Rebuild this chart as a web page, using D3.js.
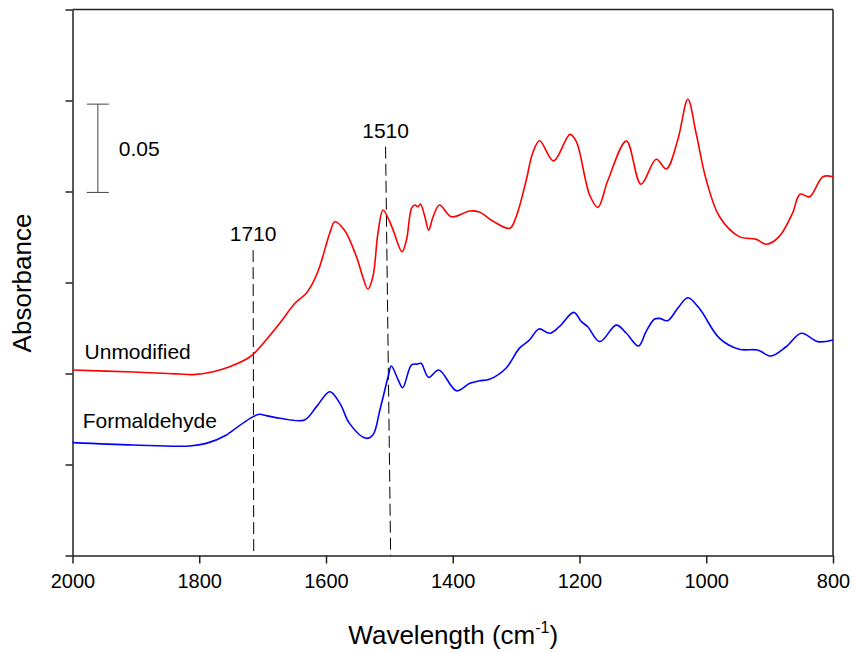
<!DOCTYPE html>
<html>
<head>
<meta charset="utf-8">
<script src="https://cdn.jsdelivr.net/npm/d3@7"></script>
<style>
    body { margin: 0; background: #fff; }
    text { font-family: "Liberation Sans", Arial, sans-serif; fill: #000; }
</style>
</head>
<body>
<div id="chart"></div>
<script>
(function () {

    // Spectra (wavenumber, absorbance)
    var unmodified = [
        [2000, 0.1019], [1904, 0.1008], [1850, 0.1000], [1831, 0.0997], [1810, 0.0994],
        [1778, 0.1010], [1752, 0.1037], [1726, 0.1078], [1716, 0.1102], [1699, 0.1166],
        [1673, 0.1276], [1649, 0.1386], [1631, 0.1441], [1621, 0.1496], [1610, 0.1587],
        [1594, 0.1772], [1586, 0.1834], [1571, 0.1788], [1552, 0.1642], [1542, 0.1532],
        [1534, 0.1464], [1526, 0.1532], [1518, 0.1772], [1510, 0.1898], [1502, 0.1854],
        [1494, 0.1788], [1480, 0.1669], [1473, 0.1734], [1465, 0.1909], [1460, 0.1926],
        [1455, 0.1916], [1451, 0.1931], [1444, 0.1861], [1438, 0.1788], [1431, 0.1861],
        [1421, 0.1926], [1402, 0.1861], [1373, 0.1893], [1358, 0.1887], [1337, 0.1838],
        [1310, 0.1798], [1300, 0.1861], [1284, 0.2063], [1274, 0.2210], [1263, 0.2279],
        [1241, 0.2168], [1215, 0.2314], [1205, 0.2274], [1184, 0.1981], [1171, 0.1913],
        [1155, 0.2063], [1126, 0.2277], [1103, 0.2040], [1079, 0.2177], [1063, 0.2124],
        [1045, 0.2283], [1029, 0.2507], [1016, 0.2320], [1000, 0.2063], [979, 0.1861],
        [948, 0.1752], [921, 0.1737], [905, 0.1710], [885, 0.1752], [864, 0.1880],
        [852, 0.1985], [837, 0.1971], [816, 0.2081], [800, 0.2081]
    ];

    var formaldehyde = [
        [2000, 0.0620], [1904, 0.0607], [1815, 0.0602], [1789, 0.0616], [1757, 0.0662],
        [1752, 0.0675], [1715, 0.0763], [1705, 0.0776], [1699, 0.0772], [1673, 0.0754],
        [1634, 0.0745], [1615, 0.0818], [1594, 0.0900], [1578, 0.0836], [1563, 0.0726],
        [1537, 0.0644], [1526, 0.0662], [1515, 0.0799], [1502, 0.0982], [1497, 0.1041],
        [1486, 0.0964], [1479, 0.0922], [1465, 0.1047], [1455, 0.1052], [1450, 0.1056],
        [1438, 0.0979], [1422, 0.1019], [1394, 0.0905], [1373, 0.0946], [1358, 0.0960],
        [1342, 0.0968], [1316, 0.1029], [1295, 0.1138], [1279, 0.1184], [1264, 0.1245],
        [1247, 0.1221], [1232, 0.1257], [1209, 0.1336], [1197, 0.1285], [1187, 0.1257],
        [1168, 0.1175], [1142, 0.1266], [1126, 0.1221], [1107, 0.1151], [1095, 0.1230],
        [1082, 0.1298], [1074, 0.1303], [1061, 0.1290], [1045, 0.1358], [1029, 0.1416],
        [1011, 0.1358], [979, 0.1193], [948, 0.1133], [919, 0.1129], [898, 0.1096],
        [874, 0.1147], [850, 0.1221], [824, 0.1175], [800, 0.1184]
    ];

    // Axis ticks
    var xTicks = [2000, 1800, 1600, 1400, 1200, 1000, 800];
    var yTicks = [0, 0.05, 0.10, 0.15, 0.20, 0.25, 0.30];

    // Marker lines: label, x at top, x at bottom, absorbance at top
    var markers = [
        {label: "1710", top: 1715, bottom: 1714, yTop: 0.1678},
        {label: "1510", top: 1506, bottom: 1498, yTop: 0.2246}
    ];

    // Scale bar
    var scaleBar = {x: 1960, from: 0.1995, to: 0.2480, label: "0.05"};

    // Series labels
    var seriesLabels = [
        {text: "Unmodified", x: 1981, y: 0.1082},
        {text: "Formaldehyde", x: 1984, y: 0.0698}
    ];

    var redColor = "#ff0000";
    var blueColor = "#0000ff";

    var margin = {top: 9.5, right: 21, bottom: 96.5, left: 72.5},
        width = 854 - margin.left - margin.right,
        height = 652 - margin.top - margin.bottom;

    var svg = d3.select("#chart")
        .append("svg")
        .attr("width", 854)
        .attr("height", 652)
        .append("g")
        .attr("transform", "translate(" + margin.left + "," + margin.top + ")");

    var x = d3.scaleLinear()
        .domain([2000, 800])
        .range([0, width]);

    var y = d3.scaleLinear()
        .domain([0, 0.30])
        .range([height, 0]);

    // Frame: top and right lines
    svg.append("line")
        .attr("x1", 0).attr("x2", width)
        .attr("y1", 0).attr("y2", 0)
        .attr("stroke", "#222").attr("stroke-width", 1.5);

    svg.append("line")
        .attr("x1", width).attr("x2", width)
        .attr("y1", 0).attr("y2", height)
        .attr("stroke", "#222").attr("stroke-width", 1.5);

    // x axis
    var xAxis = svg.append("g")
        .attr("transform", "translate(0," + height + ")")
        .call(d3.axisBottom(x).tickValues(xTicks).tickSize(8).tickSizeOuter(0).tickPadding(10)
            .tickFormat(d3.format("d")));

    xAxis.selectAll("text")
        .style("font-size", "20px")
        .attr("font-family", null);

    // y axis, no labels
    svg.append("g")
        .call(d3.axisLeft(y).tickValues(yTicks).tickSize(7).tickSizeOuter(0).tickFormat(""));

    svg.selectAll(".domain, .tick line")
        .attr("stroke", "#222")
        .attr("stroke-width", 1.5);

    // Axis titles
    var xTitle = svg.append("text")
        .attr("x", width / 2 + 0.5)
        .attr("y", height + 88)
        .attr("text-anchor", "middle")
        .style("font-size", "26px");
    xTitle.append("tspan").text("Wavelength (cm");
    xTitle.append("tspan").attr("dy", -11).style("font-size", "16px").text("-1");
    xTitle.append("tspan").attr("dy", 11).text(")");

    svg.append("text")
        .attr("transform", "rotate(-90)")
        .attr("x", -(height / 2) - 0.5)
        .attr("y", 31 - margin.left)
        .attr("text-anchor", "middle")
        .style("font-size", "26px")
        .text("Absorbance");

    // Dashed marker lines
    markers.forEach(function (m) {
        svg.append("line")
            .attr("x1", x(m.top)).attr("y1", y(m.yTop))
            .attr("x2", x(m.bottom)).attr("y2", height)
            .attr("stroke", "#000")
            .attr("stroke-width", 1)
            .attr("stroke-dasharray", "12,5");

        svg.append("text")
            .attr("x", x(m.top))
            .attr("y", y(m.yTop) - 9)
            .attr("text-anchor", "middle")
            .style("font-size", "21px")
            .text(m.label);
    });

    // Scale bar
    var sb = svg.append("g").attr("stroke", "#444").attr("stroke-width", 1);
    sb.append("line")
        .attr("x1", x(scaleBar.x)).attr("x2", x(scaleBar.x))
        .attr("y1", y(scaleBar.from)).attr("y2", y(scaleBar.to));
    [scaleBar.from, scaleBar.to].forEach(function (v) {
        sb.append("line")
            .attr("x1", x(scaleBar.x) - 11).attr("x2", x(scaleBar.x) + 11)
            .attr("y1", y(v)).attr("y2", y(v));
    });
    svg.append("text")
        .attr("x", x(scaleBar.x) + 21)
        .attr("y", (y(scaleBar.from) + y(scaleBar.to)) / 2 + 8)
        .style("font-size", "21px")
        .text(scaleBar.label);

    // Spectra
    var line = d3.line()
        .x(function (d) { return x(d[0]); })
        .y(function (d) { return y(d[1]); })
        .curve(d3.curveCatmullRom.alpha(0.5));

    svg.append("path")
        .datum(unmodified)
        .attr("fill", "none")
        .attr("stroke", redColor)
        .attr("stroke-width", 1.6)
        .attr("d", line);

    svg.append("path")
        .datum(formaldehyde)
        .attr("fill", "none")
        .attr("stroke", blueColor)
        .attr("stroke-width", 1.6)
        .attr("d", line);

    // Series labels
    seriesLabels.forEach(function (s) {
        svg.append("text")
            .attr("x", x(s.x))
            .attr("y", y(s.y))
            .style("font-size", "21px")
            .text(s.text);
    });

})();
</script>
</body>
</html>
